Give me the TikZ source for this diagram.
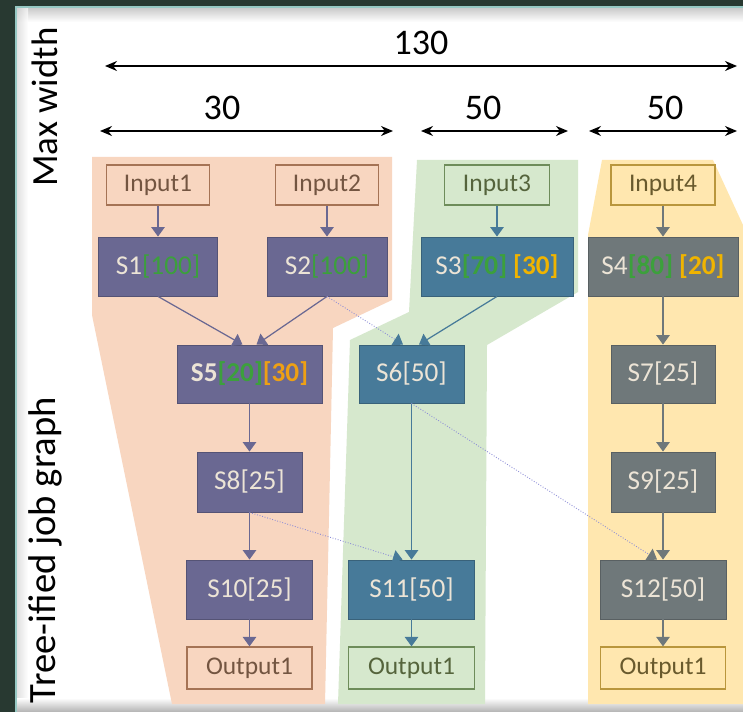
\documentclass[tikz,border=0pt]{standalone}
\usepackage{fontspec}
\setmainfont{Carlito}
\usetikzlibrary{arrows.meta}

\definecolor{slate}{RGB}{40,57,49}
\definecolor{rim}{RGB}{150,200,195}
\definecolor{peach}{RGB}{248,214,192}
\definecolor{sage}{RGB}{214,232,205}
\definecolor{sand}{RGB}{255,231,175}
\definecolor{purp}{RGB}{106,104,146}
\definecolor{blu}{RGB}{71,122,153}
\definecolor{gry}{RGB}{111,120,122}
\definecolor{cream}{RGB}{236,228,214}
\definecolor{leaf}{RGB}{60,160,60}
\definecolor{gold}{RGB}{240,180,0}
\definecolor{amber}{RGB}{238,160,20}
\definecolor{pline}{RGB}{165,115,85}
\definecolor{ptext}{RGB}{115,85,65}
\definecolor{gline}{RGB}{110,140,90}
\definecolor{gtext}{RGB}{85,100,60}
\definecolor{yline}{RGB}{185,150,60}
\definecolor{ytext}{RGB}{105,90,45}
\definecolor{dotline}{RGB}{140,140,215}

\begin{document}
\begin{tikzpicture}[x=0.02cm,y=-0.02cm]
 \tikzstyle{stage} = [line width=0.5pt,text=cream,minimum height=1.18cm,inner sep=0pt,font=\fontsize{15.5}{18}\selectfont]
 \tikzstyle{pstage} = [stage,fill=purp,draw=purp!80!black]
 \tikzstyle{bstage} = [stage,fill=blu,draw=blu!80!black]
 \tikzstyle{gstage} = [stage,fill=gry,draw=gry!80!black]
 \tikzstyle{io} = [draw,line width=0.7pt,inner sep=0pt,font=\fontsize{14.5}{17}\selectfont]
 \tikzstyle{flow} = [line width=0.7pt,-{Triangle[length=0.19cm,width=0.27cm]}]
 \tikzstyle{cross} = [densely dotted,line width=0.5pt,dotline]
 \tikzstyle{dimline} = [line width=0.8pt,{Stealth[length=0.24cm,width=0.2cm]}-{Stealth[length=0.24cm,width=0.2cm]}]
 \tikzstyle{bignum} = [font=\fontsize{20.5}{24}\selectfont]

  \useasboundingbox (0,0) rectangle (743,712);

  % Frame
  \fill[slate] (0,0) rectangle (743,712);
  \fill[white] (16,7) rectangle (743,705);
  \shade[top color=black!22,bottom color=white] (16,7) rectangle (743,22);
  \shade[left color=black!18,right color=white,opacity=0.7] (16,7) rectangle (28,705);
  \shade[top color=white,bottom color=black!30] (16,698) rectangle (743,712);
  \draw[rim,line width=1.2pt] (16,712) -- (16,7) -- (743,7);

  % Bands behind the three trees
  \fill[peach] (92,157) -- (392,157) -- (392,300) -- (333,328) -- (325,704) -- (172,704) -- (92,315) -- cycle;
  \fill[sage] (417,160) -- (578,160) -- (578,292) -- (487,345) -- (485,704) -- (338,704) -- (350,340) -- (409,312) -- cycle;
  \fill[sand] (602,160) -- (713,160) -- (743,225) -- (743,704) -- (588,704) -- (588,235) -- cycle;

  % Side labels
  \node[rotate=90,font=\fontsize{21}{24}\selectfont] (lmax) at (45,107) {Max width};
  \node[rotate=90,font=\fontsize{22}{24}\selectfont] (ltree) at (45,550) {Tree-ified job graph};

  % Widths
  \coordinate (w0l) at (105,66);  \coordinate (w0r) at (737,66);
  \coordinate (w1l) at (100,131); \coordinate (w1r) at (393,131);
  \coordinate (w2l) at (421,131); \coordinate (w2r) at (568,131);
  \coordinate (w3l) at (589,131); \coordinate (w3r) at (737,131);
  \draw[dimline] (w0l) -- (w0r);
  \draw[dimline] (w1l) -- (w1r);
  \draw[dimline] (w2l) -- (w2r);
  \draw[dimline] (w3l) -- (w3r);
  \node[bignum] (n130) at (421,43) {130};
  \node[bignum] (n30)  at (222,108) {30};
  \node[bignum] (n50a) at (483,108) {50};
  \node[bignum] (n50b) at (665,108) {50};

  % Inputs
  \node[io,draw=pline,text=ptext,minimum width=2.06cm,minimum height=0.8cm] (in1) at (158,185) {Input1};
  \node[io,draw=pline,text=ptext,minimum width=2.06cm,minimum height=0.8cm] (in2) at (327,185) {Input2};
  \node[io,draw=gline,text=gtext,minimum width=2.1cm,minimum height=0.8cm] (in3) at (497,185) {Input3};
  \node[io,draw=yline,text=ytext,minimum width=2.08cm,minimum height=0.8cm] (in4) at (663,185) {Input4};

  % Stages
  \node[pstage,minimum width=2.38cm] (s1) at (158,266.5) {S1{\color{leaf}[100]}};
  \node[pstage,minimum width=2.4cm] (s2) at (327,266.5) {S2{\color{leaf}[100]}};
  \node[bstage,minimum width=3.04cm] (s3) at (497,266.5) {S3{\color{leaf}\textbf{[70]}} {\color{gold}\textbf{[30]}}};
  \node[gstage,minimum width=3cm] (s4) at (663,266.5) {S4{\color{leaf}\textbf{[80]}} {\color{gold}\textbf{[20]}}};

  \node[pstage,minimum width=2.9cm,minimum height=1.16cm] (s5) at (249.5,374) {\textbf{S5}{\color{leaf}\textbf{[20]}}{\color{amber}\textbf{[30]}}};
  \node[bstage,minimum width=2.1cm,minimum height=1.16cm] (s6) at (411.5,374) {S6[50]};
  \node[gstage,minimum width=2.08cm,minimum height=1.16cm] (s7) at (663,374) {S7[25]};

  \node[pstage,minimum width=2.1cm,minimum height=1.2cm] (s8) at (249.5,482) {S8[25]};
  \node[gstage,minimum width=2.08cm,minimum height=1.2cm] (s9) at (663,482) {S9[25]};

  \node[pstage,minimum width=2.52cm] (s10) at (249.5,589.5) {S10[25]};
  \node[bstage,minimum width=2.52cm] (s11) at (411.5,589.5) {S11[50]};
  \node[gstage,minimum width=2.52cm] (s12) at (663,589.5) {S12[50]};

  % Outputs
  \node[io,draw=pline,text=ptext,minimum width=2.5cm,minimum height=0.84cm] (out1) at (249.5,668) {Output1};
  \node[io,draw=gline,text=gtext,minimum width=2.52cm,minimum height=0.84cm] (out2) at (411.5,668) {Output1};
  \node[io,draw=yline,text=ytext,minimum width=2.5cm,minimum height=0.84cm] (out3) at (663,668) {Output1};

  % Edges
  \draw[flow,purp] (in1.south) -- (s1.north);
  \draw[flow,purp] (in2.south) -- (s2.north);
  \draw[flow,blu]  (in3.south) -- (s3.north);
  \draw[flow,gry]  (in4.south) -- (s4.north);

  \draw[flow,purp] (s1.south) -- ([xshift=-0.14cm]s5.north);
  \draw[flow,purp] (s2.south) -- ([xshift=0.14cm]s5.north);
  \draw[flow,blu]  (s3.south) -- ([xshift=0.15cm]s6.north);
  \draw[flow,gry]  (s4.south) -- (s7.north);

  \draw[flow,purp] (s5.south) -- (s8.north);
  \draw[flow,gry]  (s7.south) -- (s9.north);
  \draw[flow,purp] (s8.south) -- (s10.north);
  \draw[flow,blu]  (s6.south) -- (s11.north);
  \draw[flow,gry]  (s9.south) -- (s12.north);

  \draw[flow,purp] (s10.south) -- (out1.north);
  \draw[flow,blu]  (s11.south) -- (out2.north);
  \draw[flow,gry]  (s12.south) -- (out3.north);

  % Cross-tree edges
  \draw[cross,-{Triangle[length=0.19cm,width=0.27cm,color=blu]}] (s2.south) -- ([xshift=-0.17cm]s6.north);
  \draw[cross,-{Triangle[length=0.19cm,width=0.27cm,color=blu]}] (s8.south) -- ([xshift=-0.18cm]s11.north);
  \draw[cross,-{Triangle[length=0.19cm,width=0.27cm,color=gry]}] (s6.south) -- ([xshift=-0.12cm]s12.north);

\end{tikzpicture}
\end{document}
